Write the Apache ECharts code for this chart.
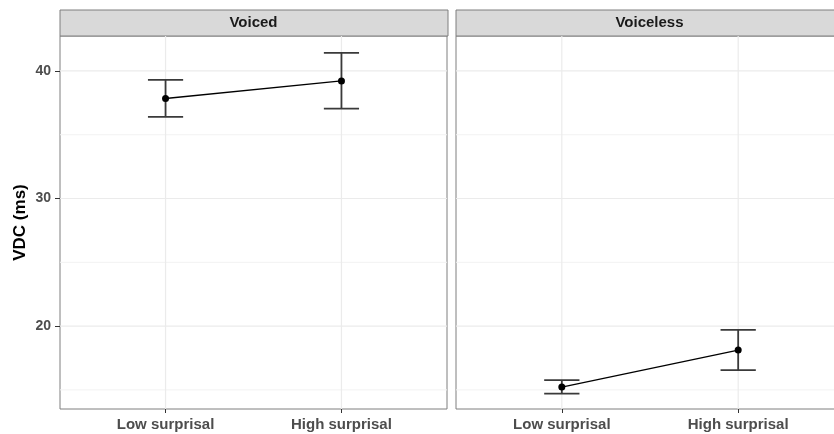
<!DOCTYPE html>
<html>
<head>
<meta charset="utf-8">
<script src="https://cdn.jsdelivr.net/npm/echarts@6/dist/echarts.min.js"></script>
<style>
  html, body { margin: 0; padding: 0; background: #fff; }
  #chart { width: 834px; height: 434px; }
</style>
</head>
<body>
<div id="chart"></div>
<script>
  // 数据
  const categories = ['Low surprisal', 'High surprisal']
  const panels = ['Voiced', 'Voiceless']
  const voicedMean = [37.84, 39.22]
  const voicedLow = [36.4, 37.05]
  const voicedHigh = [39.3, 41.41]
  const voicelessMean = [15.22, 18.12]
  const voicelessLow = [14.7, 16.55]
  const voicelessHigh = [15.77, 19.71]
  const yTicks = [20, 30, 40]
  const yMinor = [15, 25, 35]

  const FONT = '"Liberation Sans", Arial, sans-serif'
  const chart = echarts.init(document.getElementById('chart'))

  const grids = [
    { left: 60, right: 387, top: 36, bottom: 25 },
    { left: 456, right: -10, top: 36, bottom: 25 }
  ]

  let xAxis = grids.map((g, i) => ({
    type: 'value', gridIndex: i, min: 0.4, max: 2.6,
    axisLine: { show: false },
    splitLine: { show: false },
    axisTick: { customValues: [1, 2], length: 4, lineStyle: { color: '#333' } },
    axisLabel: {
      customValues: [1, 2], margin: 8,
      formatter: v => categories[Math.round(v) - 1],
      color: '#4d4d4d', fontWeight: 'bold', fontSize: 15, fontFamily: FONT
    }
  }))

  let yAxis = grids.map((g, i) => ({
    type: 'value', gridIndex: i, min: 13.5, max: 42.74,
    name: i === 0 ? 'VDC (ms)' : '',
    nameLocation: 'middle', nameGap: 31, nameRotate: 90,
    nameTextStyle: { color: '#000', fontWeight: 'bold', fontSize: 17, fontFamily: FONT },
    axisLine: { show: false },
    splitLine: { show: false },
    axisTick: { show: i === 0, customValues: yTicks, length: 5, lineStyle: { color: '#333' } },
    axisLabel: {
      show: i === 0, customValues: yTicks, margin: 9,
      color: '#4d4d4d', fontWeight: 'bold', fontSize: 14, fontFamily: FONT
    }
  }))

  // 网格线
  const gridLines = (idx) => ({
    type: 'custom', xAxisIndex: idx, yAxisIndex: idx, z: 1, silent: true,
    data: yMinor.map(v => [0, v, 'minor']).concat(yTicks.map(v => [0, v, 'major'])).concat([[1, 0, 'x'], [2, 0, 'x']]),
    renderItem: (params, api) => {
      let cs = params.coordSys
      let kind = api.value(2)
      if (kind === 'x') {
        let x = api.coord([api.value(0), 20])[0]
        return { type: 'line', shape: { x1: x, y1: cs.y, x2: x, y2: cs.y + cs.height },
          style: { stroke: '#ebebeb', lineWidth: 1.2 } }
      }
      let y = api.coord([1, api.value(1)])[1]
      return { type: 'line', shape: { x1: cs.x, y1: y, x2: cs.x + cs.width, y2: y },
        style: { stroke: kind === 'minor' ? '#f2f2f2' : '#ebebeb', lineWidth: kind === 'minor' ? 1 : 1.2 } }
    }
  })

  const errorBars = (idx, lo, hi) => ({
    type: 'custom', xAxisIndex: idx, yAxisIndex: idx, z: 3,
    data: lo.map((v, i) => [i + 1, v, hi[i]]),
    renderItem: (params, api) => {
      let x = api.value(0)
      let a = api.coord([x, api.value(1)])
      let b = api.coord([x, api.value(2)])
      let l = api.coord([x - 0.1, 0])[0]
      let r = api.coord([x + 0.1, 0])[0]
      let st = { stroke: '#3a3a3a', lineWidth: 1.8 }
      return { type: 'group', children: [
        { type: 'line', shape: { x1: a[0], y1: a[1], x2: b[0], y2: b[1] }, style: st },
        { type: 'line', shape: { x1: l, y1: a[1], x2: r, y2: a[1] }, style: st },
        { type: 'line', shape: { x1: l, y1: b[1], x2: r, y2: b[1] }, style: st }
      ] }
    }
  })

  const meanLine = (idx, vals) => ({
    type: 'line', xAxisIndex: idx, yAxisIndex: idx, z: 4,
    data: vals.map((v, i) => [i + 1, v]),
    symbol: 'circle', symbolSize: 7,
    itemStyle: { color: '#000' },
    lineStyle: { color: '#000', width: 1.3 },
    animation: false
  })

  // 分面标签
  const stripW = 388
  let strips = grids.map((g, i) => ({
    type: 'group',
    children: [
      { type: 'rect', shape: { x: g.left, y: 10, width: stripW, height: 26 },
        style: { fill: '#d9d9d9', stroke: '#7f7f7f', lineWidth: 1 } },
      { type: 'text', x: g.left + stripW / 2 - 0.5, y: 23,
        style: { text: panels[i], fill: '#1a1a1a', font: 'bold 15px ' + FONT, align: 'center', verticalAlign: 'middle' } }
    ]
  }))

  chart.setOption({
    animation: false,
    grid: grids.map(g => Object.assign({ show: true, borderColor: '#7f7f7f', borderWidth: 1,
      backgroundColor: '#fff', containLabel: false, outerBoundsMode: 'none' }, g)),
    xAxis: xAxis,
    yAxis: yAxis,
    graphic: strips,
    series: [
      gridLines(0), gridLines(1),
      errorBars(0, voicedLow, voicedHigh), errorBars(1, voicelessLow, voicelessHigh),
      meanLine(0, voicedMean), meanLine(1, voicelessMean)
    ]
  })
</script>
</body>
</html>
